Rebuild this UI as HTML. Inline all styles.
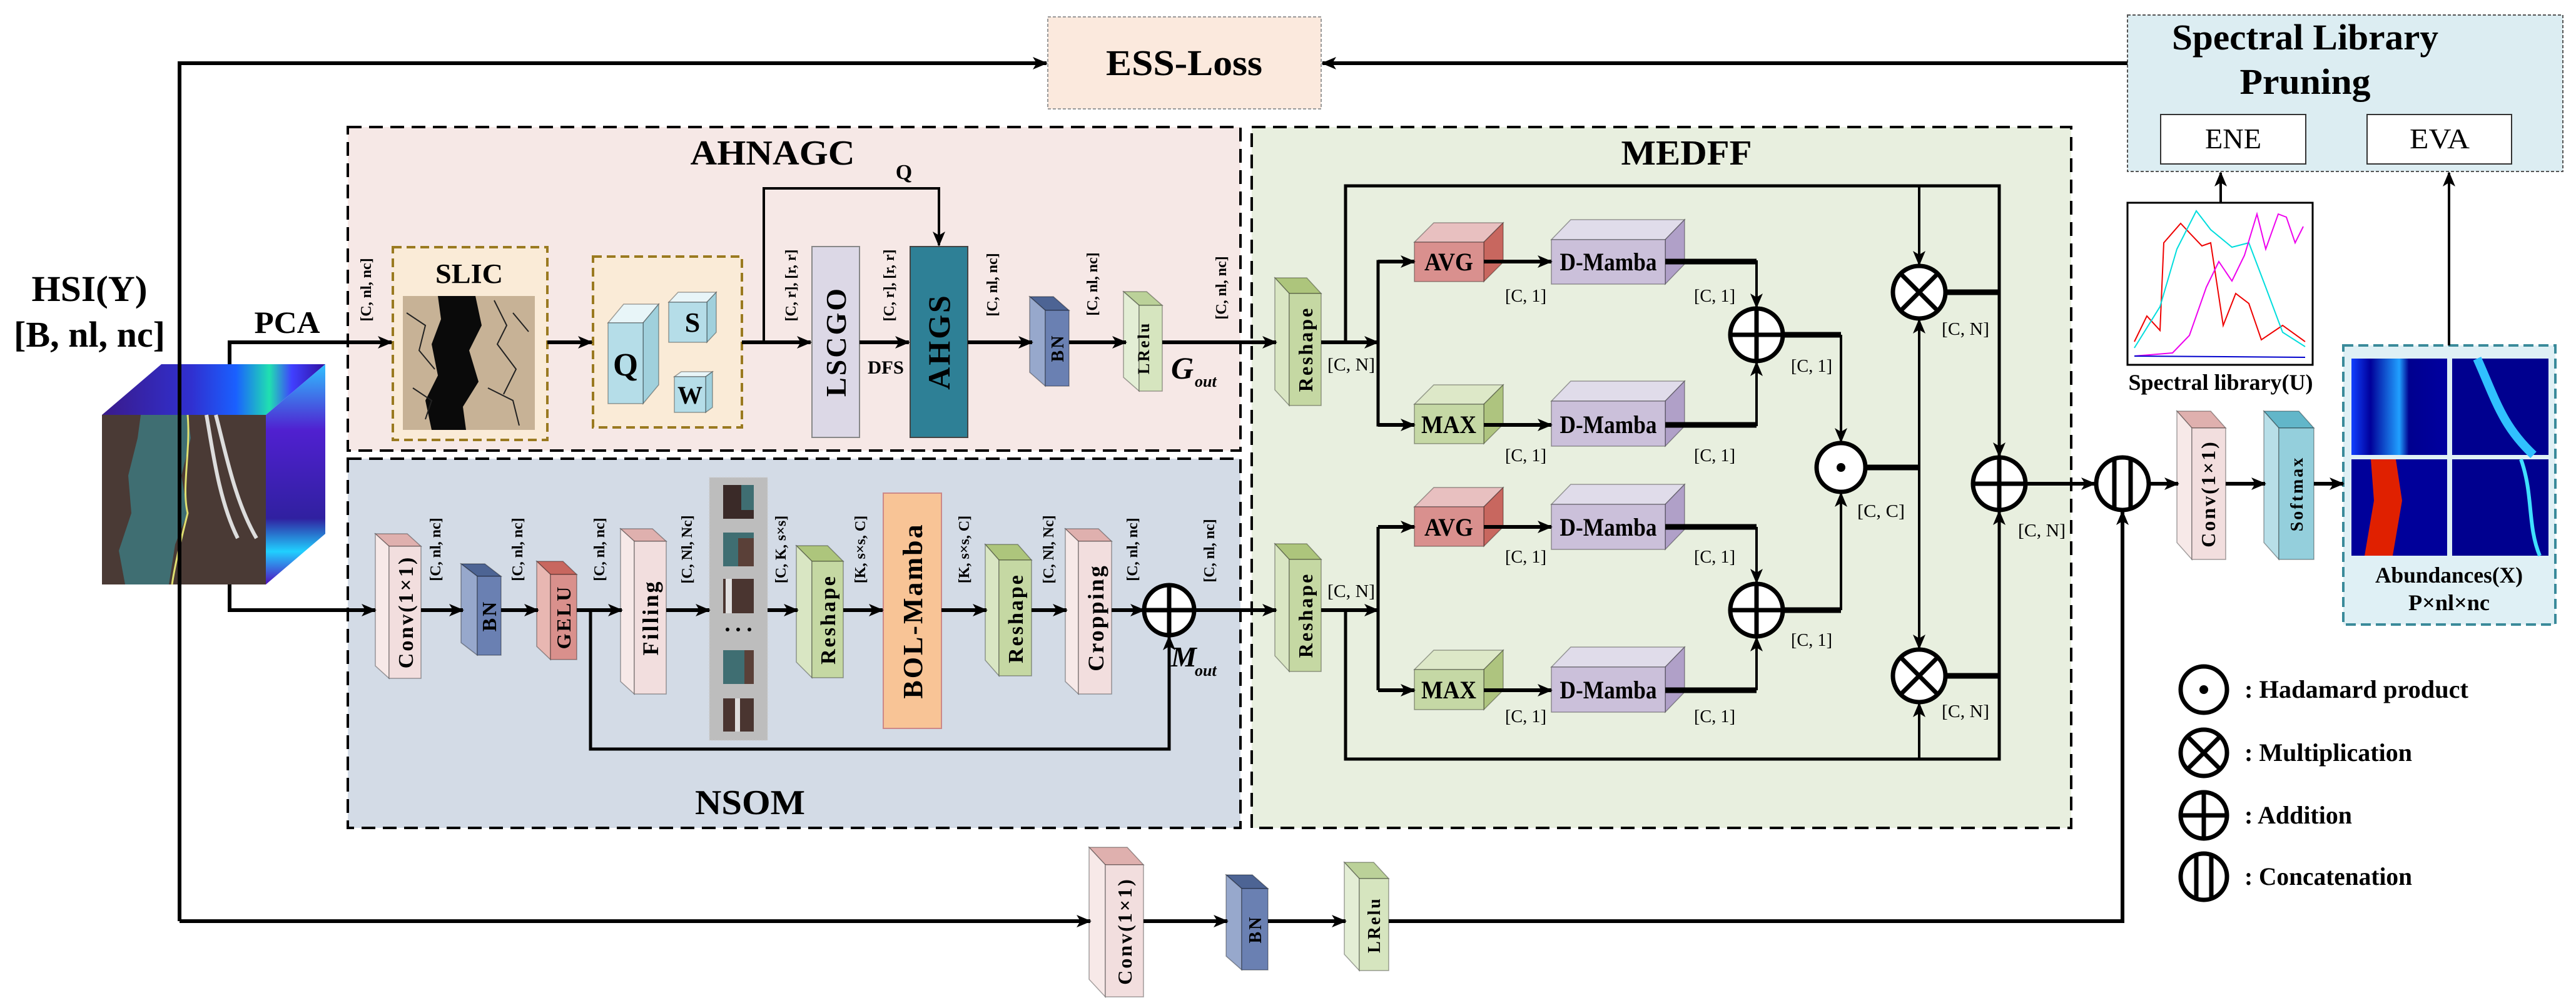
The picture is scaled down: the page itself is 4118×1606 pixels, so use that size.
<!DOCTYPE html>
<html><head><meta charset="utf-8"><style>
html,body{margin:0;padding:0;background:#fff}
svg{display:block}
text{font-family:"Liberation Serif",serif;fill:#000}
.b{font-weight:bold}
.d{font-weight:bold;font-size:24px}
.s{font-size:28px}
</style></head><body>
<svg id="S" width="4118" height="1606" viewBox="0 0 4118 1606" xmlns="http://www.w3.org/2000/svg">
<defs>
<marker id="ar" markerUnits="userSpaceOnUse" markerWidth="24" markerHeight="20" refX="22" refY="10" orient="auto"><path d="M0,0 L24,10 L0,20 L6,10 Z" fill="#000"/></marker>
<linearGradient id="hsiTop" x1="0" y1="0" x2="1" y2="0"><stop offset="0" stop-color="#3a1a8a"/><stop offset="0.4" stop-color="#3030d0"/><stop offset="0.6" stop-color="#1a60ff"/><stop offset="0.75" stop-color="#20e0b0"/><stop offset="0.85" stop-color="#4040ff"/><stop offset="1" stop-color="#3010a0"/></linearGradient>
<linearGradient id="hsiSide" x1="0" y1="0" x2="0" y2="1"><stop offset="0" stop-color="#30c0ff"/><stop offset="0.3" stop-color="#5020d0"/><stop offset="0.7" stop-color="#3020a0"/><stop offset="0.85" stop-color="#20d0ff"/><stop offset="1" stop-color="#5010c0"/></linearGradient>
<linearGradient id="abA" x1="0" y1="0" x2="1" y2="0"><stop offset="0" stop-color="#1040ff"/><stop offset="0.2" stop-color="#00009a"/><stop offset="0.5" stop-color="#20a0ff"/><stop offset="0.6" stop-color="#00008f"/><stop offset="1" stop-color="#0000a0"/></linearGradient>
</defs>

<!-- big dashed containers -->
<rect x="1675" y="27" width="437" height="147" fill="#fbe9dd" stroke="#999" stroke-width="2" stroke-dasharray="5,3"/>
<rect x="3401" y="24" width="696" height="250" fill="#dcedf2" stroke="#555" stroke-width="2" stroke-dasharray="5,3"/>
<rect x="3454" y="183" width="232" height="79" fill="#fff" stroke="#333" stroke-width="2"/>
<rect x="3784" y="183" width="231" height="79" fill="#fff" stroke="#333" stroke-width="2"/>
<rect x="556" y="203" width="1427" height="517" fill="#f6e8e6" stroke="#000" stroke-width="4" stroke-dasharray="22,12"/>
<rect x="556" y="733" width="1427" height="590" fill="#d3dbe6" stroke="#000" stroke-width="4" stroke-dasharray="22,12"/>
<rect x="2001" y="203" width="1310" height="1120" fill="#e8efdf" stroke="#000" stroke-width="4" stroke-dasharray="22,12"/>
<rect x="628" y="395" width="247" height="308" fill="#faebd7" stroke="#9a7a20" stroke-width="4" stroke-dasharray="14,8"/>
<rect x="948" y="410" width="238" height="273" fill="#faebd7" stroke="#9a7a20" stroke-width="4" stroke-dasharray="14,8"/>
<rect x="3746" y="552" width="339" height="446" fill="#dff0f5" stroke="#3a8a9a" stroke-width="4" stroke-dasharray="16,8"/>

<!-- HSI cube -->
<polygon points="163,663 258,582 520,582 425,663" fill="url(#hsiTop)"/>
<polygon points="425,663 520,582 520,853 425,934" fill="url(#hsiSide)"/>
<rect x="163" y="663" width="262" height="271" fill="#4a3a35"/>
<path d="M225,663 L300,663 L305,700 L290,760 L300,820 L280,870 L270,934 L200,934 L190,880 L210,820 L205,760 L220,700 Z" fill="#3f6e72"/>
<path d="M300,663 C305,720 290,780 300,820 C290,860 280,900 275,934" stroke="#e0e070" stroke-width="3" fill="none"/>
<path d="M330,663 C340,720 350,800 380,860 M345,663 C360,720 375,800 410,860" stroke="#ddd" stroke-width="6" fill="none"/>
<!-- SLIC image -->
<rect x="644" y="473" width="211" height="214" fill="#c7b296"/>
<path d="M700,473 L760,473 L770,520 L750,560 L765,610 L740,650 L745,687 L690,687 L680,640 L700,600 L690,550 L705,510 Z" fill="#0a0a0a"/>
<path d="M650,500 l30,20 l-10,40 l25,30 M790,480 l20,40 l-15,30 l30,40 l-20,40 M820,500 l25,30 M660,620 l30,20 l-10,30 M780,620 l40,20 l10,40" stroke="#222" stroke-width="2" fill="none"/>
<!-- patches -->
<rect x="1134" y="763" width="93" height="420" fill="#bdbdbd" stroke="#ccc" stroke-width="1" stroke-dasharray="3,2"/>
<rect x="1156" y="775" width="49" height="54" fill="#3a2a28"/><rect x="1185" y="775" width="20" height="40" fill="#3f6e72"/>
<rect x="1156" y="851" width="49" height="54" fill="#3f6e72"/><rect x="1180" y="860" width="25" height="45" fill="#5a4038"/>
<rect x="1156" y="925" width="49" height="55" fill="#4a3530"/><rect x="1160" y="925" width="10" height="55" fill="#e0e0e0"/>
<circle cx="1163" cy="1006" r="3"/><circle cx="1180" cy="1006" r="3"/><circle cx="1198" cy="1006" r="3"/>
<rect x="1156" y="1039" width="49" height="54" fill="#3f6e72"/><rect x="1190" y="1039" width="15" height="54" fill="#5a4038"/>
<rect x="1156" y="1116" width="49" height="53" fill="#4a3530"/><rect x="1175" y="1116" width="8" height="53" fill="#ddd"/>
<!-- flat rects -->
<rect x="1298" y="394" width="76" height="305" fill="#dcd8e6" stroke="#888" stroke-width="2"/>
<rect x="1455" y="394" width="92" height="305" fill="#2e8096" stroke="#444" stroke-width="2"/>
<rect x="1412" y="788" width="93" height="376" fill="#f8c496" stroke="#c88" stroke-width="2"/>
<!-- spectral plot -->
<rect x="3401" y="324" width="296" height="259" fill="#fff" stroke="#000" stroke-width="3"/>
<polyline fill="none" stroke="#e00" stroke-width="2" points="3412,546 3432,505 3453,528 3459,388 3486,357 3500,372 3520,393 3534,388 3541,434 3554,520 3574,469 3595,485 3615,543 3649,520 3685,546"/>
<polyline fill="none" stroke="#0dd" stroke-width="2" points="3412,556 3453,490 3480,398 3511,337 3534,367 3568,395 3595,388 3622,459 3649,531 3685,554"/>
<polyline fill="none" stroke="#e0e" stroke-width="2" points="3412,569 3473,564 3500,536 3527,459 3547,418 3568,449 3588,408 3608,342 3622,398 3642,342 3655,347 3669,388 3682,362"/>
<polyline fill="none" stroke="#00c" stroke-width="2" points="3412,569 3685,571"/>
<!-- abundances -->
<rect x="3759" y="573" width="153" height="154" fill="url(#abA)"/>
<rect x="3920" y="573" width="154" height="154" fill="#00008f"/><path d="M3960,573 C3990,640 4000,680 4050,727" stroke="#30c0ff" stroke-width="14" fill="none"/>
<rect x="3759" y="734" width="153" height="154" fill="#00009a"/><path d="M3790,734 L3830,734 L3840,800 L3825,888 L3780,888 L3795,800 Z" fill="#e02000"/>
<rect x="3920" y="734" width="154" height="154" fill="#00008f"/><path d="M4030,734 C4050,790 4040,840 4060,888" stroke="#40e0ff" stroke-width="6" fill="none"/>

<g id="boxes"></g>

<!-- connectors -->
<g stroke="#000" fill="none" stroke-width="6">
<polyline points="287,1472 287,101 1673,101" marker-end="url(#ar)"/>
<line x1="3401" y1="101" x2="2114" y2="101" marker-end="url(#ar)"/>
<line x1="3550" y1="324" x2="3550" y2="276" stroke-width="4" marker-end="url(#ar)"/>
<line x1="3915" y1="552" x2="3915" y2="276" stroke-width="4" marker-end="url(#ar)"/>
<polyline points="367,582 367,547 626,547" marker-end="url(#ar)"/>
<line x1="875" y1="547" x2="946" y2="547" marker-end="url(#ar)"/>
<line x1="1186" y1="547" x2="1296" y2="547" marker-end="url(#ar)"/>
<polyline points="1221,547 1221,301 1501,301 1501,392" stroke-width="4" marker-end="url(#ar)"/>
<line x1="1374" y1="547" x2="1453" y2="547" marker-end="url(#ar)"/>
<line x1="1547" y1="547" x2="1650" y2="547" marker-end="url(#ar)"/>
<line x1="1709" y1="547" x2="1800" y2="547" marker-end="url(#ar)"/>
<line x1="1858" y1="547" x2="2040" y2="547" marker-end="url(#ar)"/>
<polyline points="367,934 367,975 600,975" marker-end="url(#ar)"/>
<line x1="673" y1="975" x2="740" y2="975" marker-end="url(#ar)"/>
<line x1="801" y1="975" x2="860" y2="975" marker-end="url(#ar)"/>
<line x1="922" y1="975" x2="994" y2="975" marker-end="url(#ar)"/>
<line x1="1065" y1="975" x2="1134" y2="975" marker-end="url(#ar)"/>
<line x1="1227" y1="975" x2="1275" y2="975" marker-end="url(#ar)"/>
<line x1="1348" y1="975" x2="1411" y2="975" marker-end="url(#ar)"/>
<line x1="1505" y1="975" x2="1577" y2="975" marker-end="url(#ar)"/>
<line x1="1649" y1="975" x2="1705" y2="975" marker-end="url(#ar)"/>
<line x1="1777" y1="975" x2="1829" y2="975" marker-end="url(#ar)"/>
<polyline points="944,975 944,1197 1869,1197 1869,1017" stroke-width="5" marker-end="url(#ar)"/>
<line x1="1909" y1="975" x2="2040" y2="975" marker-end="url(#ar)"/>
<line x1="287" y1="1472" x2="1743" y2="1472" marker-end="url(#ar)"/>
<line x1="1828" y1="1472" x2="1962" y2="1472" marker-end="url(#ar)"/>
<line x1="2027" y1="1472" x2="2151" y2="1472" marker-end="url(#ar)"/>
<polyline points="2220,1472 3393,1472 3393,817" marker-end="url(#ar)"/>
<!-- MEDFF upper -->
<line x1="2112" y1="547" x2="2203" y2="547" marker-end="url(#ar)"/>
<polyline points="2261,418 2203,418 2203,679 2261,679" stroke-width="5"/>
<line x1="2203" y1="418" x2="2261" y2="418" marker-end="url(#ar)"/>
<line x1="2203" y1="679" x2="2261" y2="679" marker-end="url(#ar)"/>
<line x1="2372" y1="418" x2="2480" y2="418" marker-end="url(#ar)"/>
<line x1="2372" y1="679" x2="2480" y2="679" marker-end="url(#ar)"/>
<polyline points="2662,418 2808,418 2808,491" stroke-width="4" marker-end="url(#ar)"/>
<line x1="2662" y1="418" x2="2808" y2="418" stroke-width="9"/>
<polyline points="2662,679 2808,679 2808,579" stroke-width="4" marker-end="url(#ar)"/>
<line x1="2662" y1="679" x2="2808" y2="679" stroke-width="9"/>
<line x1="2808" y1="535" x2="2943" y2="535" stroke-width="9"/>
<polyline points="2943,535 2943,706" stroke-width="4" marker-end="url(#ar)"/>
<polyline points="2151,547 2151,297 3196,297 3196,729" stroke-width="5" marker-end="url(#ar)"/>
<line x1="3068" y1="297" x2="3068" y2="423" stroke-width="4" marker-end="url(#ar)"/>
<line x1="3110" y1="467" x2="3196" y2="467" stroke-width="9"/>
<line x1="2982" y1="747" x2="3068" y2="747" stroke-width="9"/>
<line x1="3068" y1="747" x2="3068" y2="511" stroke-width="4" marker-end="url(#ar)"/>
<line x1="3068" y1="747" x2="3068" y2="1036" stroke-width="4" marker-end="url(#ar)"/>
<line x1="3238" y1="773" x2="3349" y2="773" marker-end="url(#ar)"/>
<!-- MEDFF lower -->
<line x1="2112" y1="975" x2="2203" y2="975" marker-end="url(#ar)"/>
<line x1="2203" y1="842" x2="2203" y2="1103" stroke-width="5"/>
<line x1="2203" y1="842" x2="2261" y2="842" marker-end="url(#ar)"/>
<line x1="2203" y1="1103" x2="2261" y2="1103" marker-end="url(#ar)"/>
<line x1="2372" y1="842" x2="2480" y2="842" marker-end="url(#ar)"/>
<line x1="2372" y1="1103" x2="2480" y2="1103" marker-end="url(#ar)"/>
<line x1="2662" y1="842" x2="2808" y2="842" stroke-width="9"/>
<line x1="2808" y1="842" x2="2808" y2="931" stroke-width="4" marker-end="url(#ar)"/>
<line x1="2662" y1="1103" x2="2808" y2="1103" stroke-width="9"/>
<line x1="2808" y1="1103" x2="2808" y2="1019" stroke-width="4" marker-end="url(#ar)"/>
<line x1="2808" y1="975" x2="2943" y2="975" stroke-width="9"/>
<line x1="2943" y1="975" x2="2943" y2="788" stroke-width="4" marker-end="url(#ar)"/>
<polyline points="2151,975 2151,1213 3196,1213 3196,817" stroke-width="5" marker-end="url(#ar)"/>
<line x1="3068" y1="1213" x2="3068" y2="1124" stroke-width="4" marker-end="url(#ar)"/>
<line x1="3110" y1="1080" x2="3196" y2="1080" stroke-width="9"/>
<!-- right column -->
<line x1="3435" y1="773" x2="3482" y2="773" marker-end="url(#ar)"/>
<line x1="3558" y1="773" x2="3621" y2="773" marker-end="url(#ar)"/>
<line x1="3699" y1="773" x2="3746" y2="773" marker-end="url(#ar)"/>
</g>

<!-- operators -->
<g stroke="#000" stroke-width="7" fill="#fff">
<circle cx="1869" cy="975" r="40"/><path d="M1829,975 H1909 M1869,935 V1015"/>
<circle cx="2808" cy="535" r="42"/><path d="M2766,535 H2850 M2808,493 V577"/>
<circle cx="2808" cy="975" r="42"/><path d="M2766,975 H2850 M2808,933 V1017"/>
<circle cx="2943" cy="747" r="39"/>
<circle cx="3068" cy="467" r="42"/><path d="M3038,437 L3098,497 M3098,437 L3038,497"/>
<circle cx="3068" cy="1080" r="42"/><path d="M3038,1050 L3098,1110 M3098,1050 L3038,1110"/>
<circle cx="3196" cy="773" r="42"/><path d="M3154,773 H3238 M3196,731 V815"/>
<circle cx="3393" cy="773" r="42"/><path d="M3380,733 V813 M3406,733 V813"/>
<circle cx="3523" cy="1102" r="37"/>
<circle cx="3523" cy="1203" r="37"/><path d="M3497,1177 L3549,1229 M3549,1177 L3497,1229"/>
<circle cx="3523" cy="1303" r="37"/><path d="M3486,1303 H3560 M3523,1266 V1340"/>
<circle cx="3523" cy="1401" r="37"/><path d="M3511,1366 V1436 M3535,1366 V1436"/>
</g>
<circle cx="2943" cy="747" r="7"/><circle cx="3523" cy="1102" r="7"/>

<!-- titles -->
<text class="b" x="1893" y="120" font-size="58" text-anchor="middle" textLength="250" lengthAdjust="spacingAndGlyphs">ESS-Loss</text>
<text class="b" x="3685" y="79" font-size="58" text-anchor="middle" textLength="426" lengthAdjust="spacingAndGlyphs">Spectral Library</text>
<text class="b" x="3685" y="150" font-size="58" text-anchor="middle" textLength="209" lengthAdjust="spacingAndGlyphs">Pruning</text>
<text x="3570" y="237" font-size="46" text-anchor="middle" textLength="90" lengthAdjust="spacingAndGlyphs">ENE</text>
<text x="3900" y="237" font-size="46" text-anchor="middle" textLength="96" lengthAdjust="spacingAndGlyphs">EVA</text>
<text class="b" x="1235" y="263" font-size="56" text-anchor="middle" textLength="263" lengthAdjust="spacingAndGlyphs">AHNAGC</text>
<text class="b" x="2696" y="263" font-size="56" text-anchor="middle" textLength="209" lengthAdjust="spacingAndGlyphs">MEDFF</text>
<text class="b" x="1199" y="1301" font-size="56" text-anchor="middle" textLength="176" lengthAdjust="spacingAndGlyphs">NSOM</text>
<text class="b" x="1445" y="286" font-size="34" text-anchor="middle">Q</text>
<text class="b" x="750" y="452" font-size="44" text-anchor="middle" textLength="108" lengthAdjust="spacingAndGlyphs">SLIC</text>
<text class="b" x="143" y="481" font-size="58" text-anchor="middle" textLength="185" lengthAdjust="spacingAndGlyphs">HSI(Y)</text>
<text class="b" x="143" y="554" font-size="58" text-anchor="middle" textLength="242" lengthAdjust="spacingAndGlyphs">[B, nl, nc]</text>
<text class="b" x="459" y="532" font-size="50" text-anchor="middle" textLength="105" lengthAdjust="spacingAndGlyphs">PCA</text>
<text class="b" x="1416" y="597" font-size="30" text-anchor="middle" textLength="58" lengthAdjust="spacingAndGlyphs">DFS</text>
<text class="b" x="1872" y="605" font-size="50" font-style="italic">G</text><text class="b" x="1910" y="618" font-size="26" font-style="italic">out</text>
<text class="b" x="1872" y="1065" font-size="46" font-style="italic">M</text><text class="b" x="1910" y="1080" font-size="26" font-style="italic">out</text>
<text class="b" x="3550" y="623" font-size="36" text-anchor="middle" textLength="295" lengthAdjust="spacingAndGlyphs">Spectral library(U)</text>
<text class="b" x="3915" y="931" font-size="36" text-anchor="middle" textLength="236" lengthAdjust="spacingAndGlyphs">Abundances(X)</text>
<text class="b" x="3915" y="975" font-size="36" text-anchor="middle" textLength="130" lengthAdjust="spacingAndGlyphs">P×nl×nc</text>
<text class="b" x="3588" y="1115" font-size="40" textLength="358" lengthAdjust="spacingAndGlyphs">: Hadamard product</text>
<text class="b" x="3588" y="1216" font-size="40" textLength="268" lengthAdjust="spacingAndGlyphs">: Multiplication</text>
<text class="b" x="3588" y="1316" font-size="40" textLength="172" lengthAdjust="spacingAndGlyphs">: Addition</text>
<text class="b" x="3588" y="1414" font-size="40" textLength="268" lengthAdjust="spacingAndGlyphs">: Concatenation</text>

<!-- cube labels -->
<g class="b" font-size="40" text-anchor="middle">
<text x="1000" y="600" font-size="52" textLength="40" lengthAdjust="spacingAndGlyphs">Q</text>
<text x="1107" y="530" font-size="44">S</text>
<text x="1103" y="645" font-size="40">W</text>
<text x="2316" y="432" textLength="78" lengthAdjust="spacingAndGlyphs">AVG</text>
<text x="2571" y="432" textLength="155" lengthAdjust="spacingAndGlyphs">D-Mamba</text>
<text x="2316" y="692" textLength="88" lengthAdjust="spacingAndGlyphs">MAX</text>
<text x="2571" y="692" textLength="155" lengthAdjust="spacingAndGlyphs">D-Mamba</text>
<text x="2316" y="856" textLength="78" lengthAdjust="spacingAndGlyphs">AVG</text>
<text x="2571" y="856" textLength="155" lengthAdjust="spacingAndGlyphs">D-Mamba</text>
<text x="2316" y="1116" textLength="88" lengthAdjust="spacingAndGlyphs">MAX</text>
<text x="2571" y="1116" textLength="155" lengthAdjust="spacingAndGlyphs">D-Mamba</text>
</g>
<!-- shape labels -->
<g class="s" text-anchor="middle">
<text x="2439" y="482" textLength="66" lengthAdjust="spacingAndGlyphs">[C, 1]</text>
<text x="2741" y="482" textLength="66" lengthAdjust="spacingAndGlyphs">[C, 1]</text>
<text x="2439" y="737" textLength="66" lengthAdjust="spacingAndGlyphs">[C, 1]</text>
<text x="2741" y="737" textLength="66" lengthAdjust="spacingAndGlyphs">[C, 1]</text>
<text x="2439" y="899" textLength="66" lengthAdjust="spacingAndGlyphs">[C, 1]</text>
<text x="2741" y="899" textLength="66" lengthAdjust="spacingAndGlyphs">[C, 1]</text>
<text x="2439" y="1154" textLength="66" lengthAdjust="spacingAndGlyphs">[C, 1]</text>
<text x="2741" y="1154" textLength="66" lengthAdjust="spacingAndGlyphs">[C, 1]</text>
<text x="2896" y="594" textLength="66" lengthAdjust="spacingAndGlyphs">[C, 1]</text>
<text x="2896" y="1032" textLength="66" lengthAdjust="spacingAndGlyphs">[C, 1]</text>
<text x="3142" y="535" textLength="76" lengthAdjust="spacingAndGlyphs">[C, N]</text>
<text x="3142" y="1146" textLength="76" lengthAdjust="spacingAndGlyphs">[C, N]</text>
<text x="3007" y="826" textLength="76" lengthAdjust="spacingAndGlyphs">[C, C]</text>
<text x="3264" y="857" textLength="76" lengthAdjust="spacingAndGlyphs">[C, N]</text>
<text x="2160" y="592" textLength="76" lengthAdjust="spacingAndGlyphs">[C, N]</text>
<text x="2160" y="954" textLength="76" lengthAdjust="spacingAndGlyphs">[C, N]</text>
</g>
<!-- rotated dims -->
<g class="d" text-anchor="middle">
<text transform="translate(593,463) rotate(-90)">[C, nl, nc]</text>
<text transform="translate(1272,456) rotate(-90)">[C, r], [r, r]</text>
<text transform="translate(1429,456) rotate(-90)">[C, r], [r, r]</text>
<text transform="translate(1594,455) rotate(-90)">[C, nl, nc]</text>
<text transform="translate(1754,454) rotate(-90)">[C, nl, nc]</text>
<text transform="translate(1960,460) rotate(-90)">[C, nl, nc]</text>
<text transform="translate(704,878) rotate(-90)">[C, nl, nc]</text>
<text transform="translate(835,878) rotate(-90)">[C, nl, nc]</text>
<text transform="translate(966,878) rotate(-90)">[C, nl, nc]</text>
<text transform="translate(1106,878) rotate(-90)">[C, Nl, Nc]</text>
<text transform="translate(1256,878) rotate(-90)">[C, K, s×s]</text>
<text transform="translate(1383,878) rotate(-90)">[K, s×s, C]</text>
<text transform="translate(1549,878) rotate(-90)">[K, s×s, C]</text>
<text transform="translate(1684,878) rotate(-90)">[C, Nl, Nc]</text>
<text transform="translate(1818,878) rotate(-90)">[C, nl, nc]</text>
<text transform="translate(1941,880) rotate(-90)">[C, nl, nc]</text>
</g>
<!-- rotated box labels -->
<g class="b" text-anchor="middle" letter-spacing="3">
<text font-size="34" transform="translate(660,978) rotate(-90)">Conv(1×1)</text>
<text font-size="32" transform="translate(793,984) rotate(-90)">BN</text>
<text font-size="32" transform="translate(912,986) rotate(-90)">GELU</text>
<text font-size="36" transform="translate(1052,987) rotate(-90)">Filling</text>
<text font-size="34" transform="translate(1335,990) rotate(-90)">Reshape</text>
<text font-size="44" transform="translate(1474,976) rotate(-90)">BOL-Mamba</text>
<text font-size="34" transform="translate(1635,988) rotate(-90)">Reshape</text>
<text font-size="36" transform="translate(1764,987) rotate(-90)">Cropping</text>
<text font-size="46" transform="translate(1352,546) rotate(-90)">LSCGO</text>
<text font-size="50" transform="translate(1518,546) rotate(-90)">AHGS</text>
<text font-size="28" transform="translate(1700,556) rotate(-90)">BN</text>
<text font-size="26" transform="translate(1837,556) rotate(-90)">LRelu</text>
<text font-size="32" transform="translate(2098,558) rotate(-90)">Reshape</text>
<text font-size="32" transform="translate(2098,983) rotate(-90)">Reshape</text>
<text font-size="32" transform="translate(1809,1488) rotate(-90)">Conv(1×1)</text>
<text font-size="28" transform="translate(2016,1485) rotate(-90)">BN</text>
<text font-size="28" transform="translate(2206,1478) rotate(-90)">LRelu</text>
<text font-size="32" transform="translate(3541,789) rotate(-90)">Conv(1×1)</text>
<text font-size="28" transform="translate(3681,789) rotate(-90)">Softmax</text>
</g>
</svg>
<script>
(function(){
var g=document.getElementById('boxes'),NS='http://www.w3.org/2000/svg';
function p(pts,f){var e=document.createElementNS(NS,'polygon');e.setAttribute('points',pts);e.setAttribute('fill',f);e.setAttribute('stroke','rgba(0,0,0,0.35)');e.setAttribute('stroke-width','1.5');g.appendChild(e);}
function A(x1,x2,y1,y2,dx,dy,F,T,S){
p([x1-dx,y1-dy,x2-dx,y1-dy,x2,y1,x1,y1].join(' '),T);
p([x1-dx,y1-dy,x1,y1,x1,y2,x1-dx,y2-dy].join(' '),S);
p([x1,y1,x2,y1,x2,y2,x1,y2].join(' '),F);}
function B(x1,x2,y1,y2,dx,dy,F,T,S){
p([x1,y1,x1+dx,y1-dy,x2+dx,y1-dy,x2,y1].join(' '),T);
p([x2,y1,x2+dx,y1-dy,x2+dx,y2-dy,x2,y2].join(' '),S);
p([x1,y1,x2,y1,x2,y2,x1,y2].join(' '),F);}
var pk=['#f2dede','#dfb0ae','#f7e9e8'],bn=['#6a80b2','#4d6494','#97a8cc'],ge=['#d9908c','#c8675f','#e8b7b2'],
gr=['#c5d8a3','#adc57c','#d9e6c3'],lr=['#d6e5bf','#bbd199','#e3eed5'],sm=['#94cfdc','#62b6c9','#b8dfe8'];
function a(x1,x2,y1,y2,dx,dy,c){A(x1,x2,y1,y2,dx,dy,c[0],c[1],c[2]);}
a(622,673,873,1084,22,20,pk);a(763,801,921,1047,26,20,bn);a(880,922,918,1054,22,21,ge);
a(1014,1065,865,1109,22,20,pk);a(1298,1348,897,1083,25,25,gr);a(1597,1649,895,1080,22,25,gr);a(1724,1777,865,1109,21,20,pk);
a(1671,1709,496,617,25,22,bn);a(1821,1858,488,625,25,22,lr);
a(2061,2112,469,648,23,25,gr);a(2061,2112,894,1073,23,25,gr);
a(1767,1828,1382,1593,26,28,pk);a(1985,2027,1420,1550,25,22,bn);a(2173,2220,1404,1551,24,26,lr);
a(3504,3558,684,894,24,27,pk);a(3643,3699,684,894,24,27,sm);
var av=['#d9908e','#e8c0c0','#c8675f'],dm=['#cbc0da','#e0dcea','#b0a0c8'],mx=['#c5d8a5','#dde8c8','#aec47f'],qc=['#b5dde8','#e8f5f8','#a0d0dc'];
function b(x1,x2,y1,y2,dx,dy,c){B(x1,x2,y1,y2,dx,dy,c[0],c[1],c[2]);}
b(2261,2372,387,450,31,31,av);b(2480,2662,383,454,31,32,dm);
b(2261,2372,646,709,31,31,mx);b(2480,2662,641,713,31,32,dm);
b(2261,2372,810,873,31,31,av);b(2480,2662,806,878,31,32,dm);
b(2261,2372,1070,1134,31,31,mx);b(2480,2662,1066,1138,31,32,dm);
b(972,1028,516,645,25,30,qc);b(1069,1130,483,547,15,16,qc);b(1078,1128,602,659,11,8,qc);
})();
</script>
</body></html>
